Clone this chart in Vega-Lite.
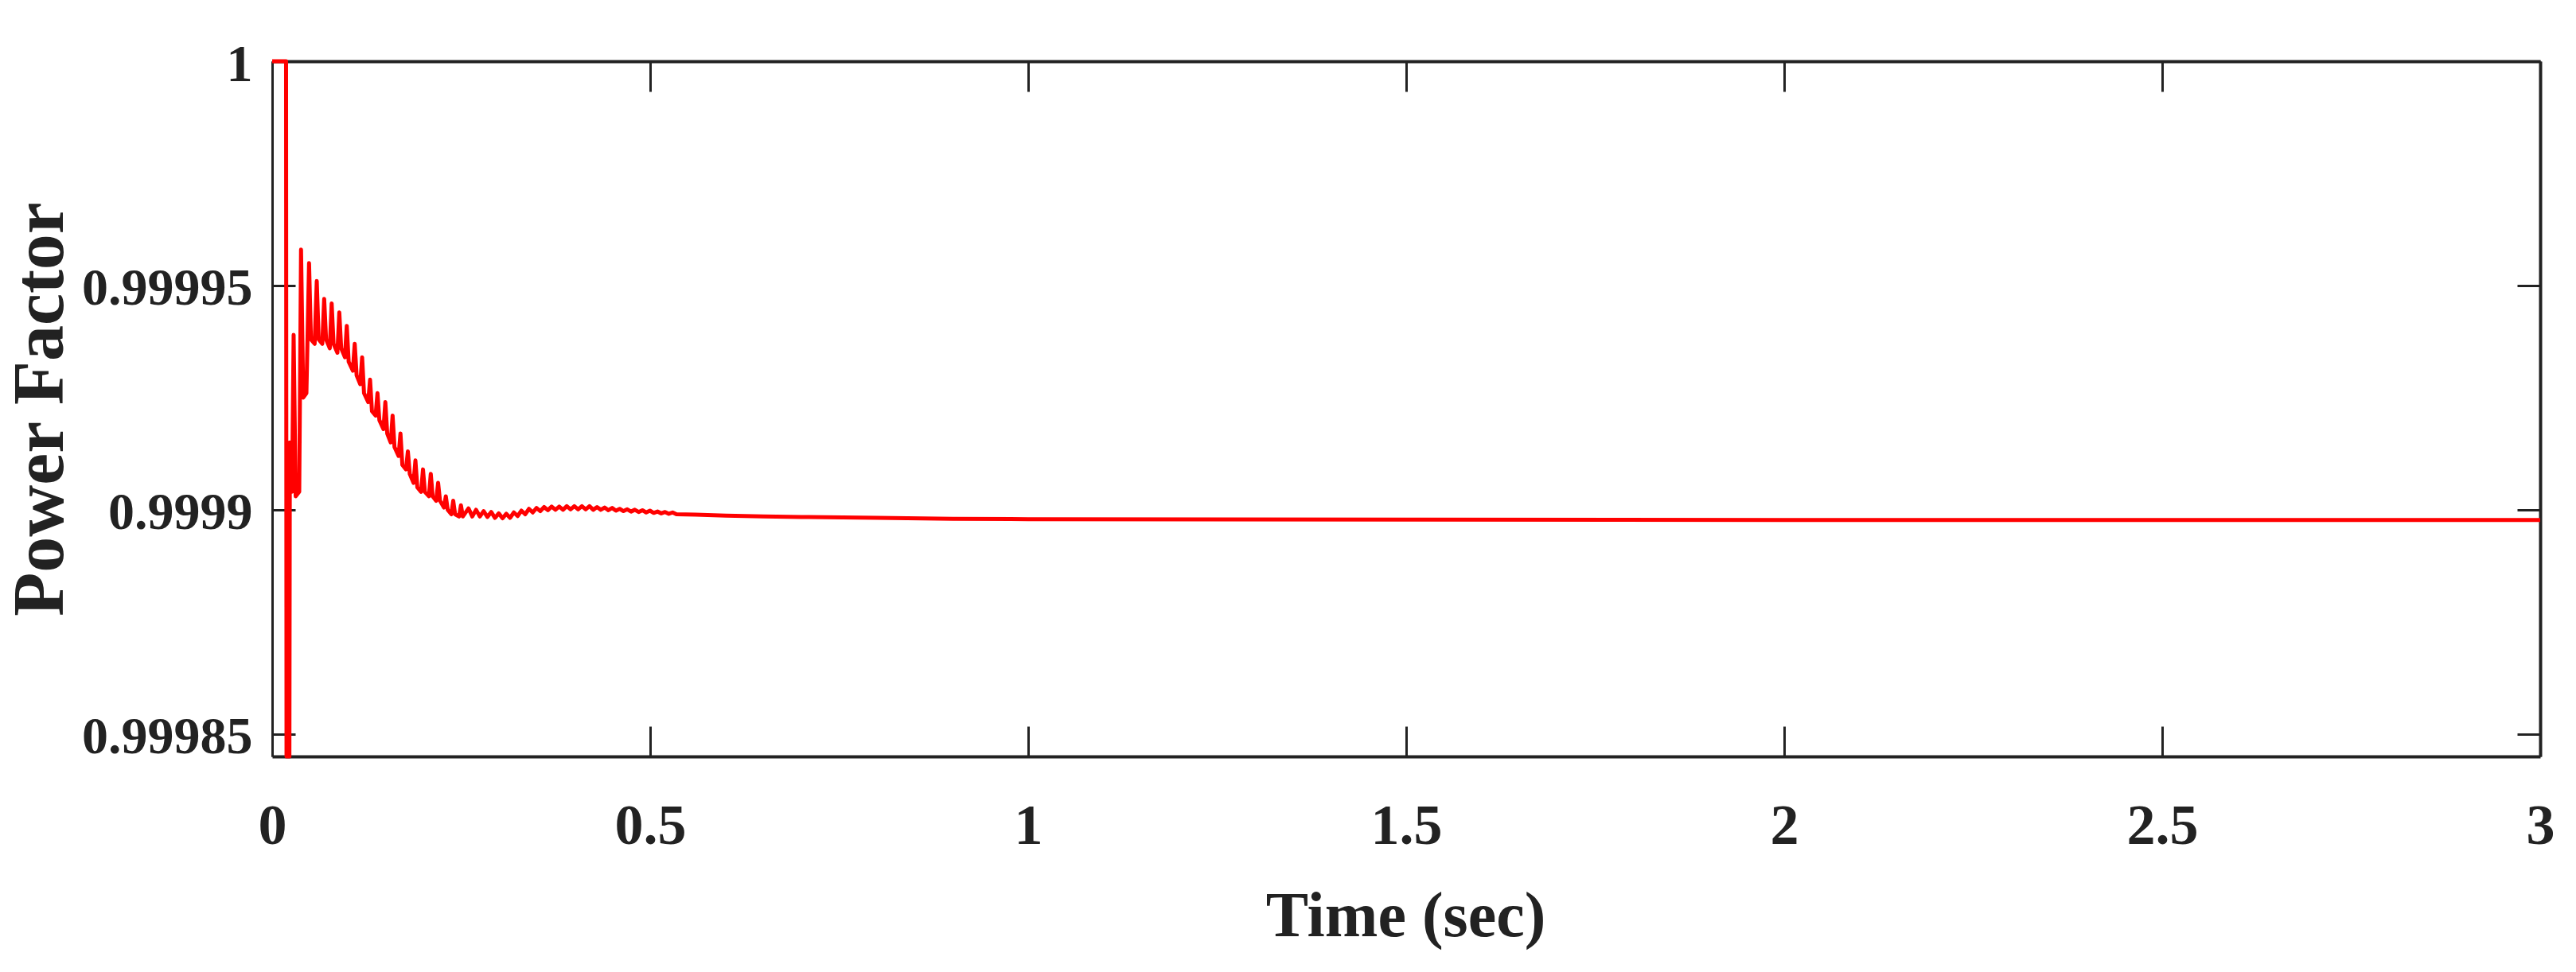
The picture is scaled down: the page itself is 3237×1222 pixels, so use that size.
{
  "$schema": "https://vega.github.io/schema/vega-lite/v6.json",
  "width": 2850,
  "height": 874,
  "autosize": "none",
  "padding": {"left": 342, "top": 77, "right": 45, "bottom": 271},
  "background": "white",
  "config": {
    "view": {"stroke": null},
    "axis": {
      "domainColor": "#222222",
      "domainWidth": 4,
      "tickColor": "#222222",
      "tickWidth": 3,
      "grid": false,
      "labelFont": "Liberation Serif",
      "labelFontWeight": "bold",
      "labelColor": "#222222",
      "labelLimit": 0,
      "titleFont": "Liberation Serif",
      "titleFontWeight": "bold",
      "titleColor": "#222222",
      "titleLimit": 0,
      "labelFlush": false,
      "labelOverlap": false,
      "labelBound": false
    }
  },
  "data": {
    "values": [
      {"t": 0, "pf": 1.0},
      {"t": 0.0184, "pf": 1.0},
      {"t": 0.0190, "pf": 0.999845},
      {"t": 0.0228, "pf": 0.999845},
      {"t": 0.0234, "pf": 0.999915},
      {"t": 0.0247, "pf": 0.999904},
      {"t": 0.0263, "pf": 0.999904},
      {"t": 0.0284, "pf": 0.999939},
      {"t": 0.0311, "pf": 0.999903},
      {"t": 0.0358, "pf": 0.999904},
      {"t": 0.0382, "pf": 0.999958},
      {"t": 0.0411, "pf": 0.999925},
      {"t": 0.0453, "pf": 0.999926},
      {"t": 0.0488, "pf": 0.999955},
      {"t": 0.0513, "pf": 0.999938},
      {"t": 0.0562, "pf": 0.999937},
      {"t": 0.0590, "pf": 0.999951},
      {"t": 0.0615, "pf": 0.999938},
      {"t": 0.0663, "pf": 0.999937},
      {"t": 0.0688, "pf": 0.999947},
      {"t": 0.0713, "pf": 0.999938},
      {"t": 0.0762, "pf": 0.999936},
      {"t": 0.0787, "pf": 0.999946},
      {"t": 0.0812, "pf": 0.999937},
      {"t": 0.0863, "pf": 0.999935},
      {"t": 0.0888, "pf": 0.999944},
      {"t": 0.0913, "pf": 0.999936},
      {"t": 0.0962, "pf": 0.999934},
      {"t": 0.0987, "pf": 0.999941},
      {"t": 0.1012, "pf": 0.999933},
      {"t": 0.1067, "pf": 0.999931},
      {"t": 0.1092, "pf": 0.999937},
      {"t": 0.1117, "pf": 0.999930},
      {"t": 0.1165, "pf": 0.999928},
      {"t": 0.1190, "pf": 0.999934},
      {"t": 0.1215, "pf": 0.999926},
      {"t": 0.1270, "pf": 0.999924},
      {"t": 0.1295, "pf": 0.999929},
      {"t": 0.1320, "pf": 0.999922},
      {"t": 0.1368, "pf": 0.999921},
      {"t": 0.1393, "pf": 0.999926},
      {"t": 0.1418, "pf": 0.999920},
      {"t": 0.1472, "pf": 0.999918},
      {"t": 0.1497, "pf": 0.999924},
      {"t": 0.1522, "pf": 0.999917},
      {"t": 0.1568, "pf": 0.999915},
      {"t": 0.1593, "pf": 0.999921},
      {"t": 0.1618, "pf": 0.999914},
      {"t": 0.1672, "pf": 0.999912},
      {"t": 0.1697, "pf": 0.999917},
      {"t": 0.1722, "pf": 0.999910},
      {"t": 0.1770, "pf": 0.999909},
      {"t": 0.1795, "pf": 0.999913},
      {"t": 0.1820, "pf": 0.999908},
      {"t": 0.1870, "pf": 0.999906},
      {"t": 0.1895, "pf": 0.999911},
      {"t": 0.1920, "pf": 0.999905},
      {"t": 0.1970, "pf": 0.999904},
      {"t": 0.1995, "pf": 0.999909},
      {"t": 0.2020, "pf": 0.999904},
      {"t": 0.2073, "pf": 0.999903},
      {"t": 0.2098, "pf": 0.999908},
      {"t": 0.2123, "pf": 0.999903},
      {"t": 0.2170, "pf": 0.999902},
      {"t": 0.2195, "pf": 0.999906},
      {"t": 0.2220, "pf": 0.999902},
      {"t": 0.2272, "pf": 0.9999005},
      {"t": 0.2297, "pf": 0.999903},
      {"t": 0.2322, "pf": 0.9999},
      {"t": 0.2370, "pf": 0.999899},
      {"t": 0.2395, "pf": 0.999902},
      {"t": 0.2420, "pf": 0.999899},
      {"t": 0.2472, "pf": 0.9998985},
      {"t": 0.2497, "pf": 0.999901},
      {"t": 0.2522, "pf": 0.9998985},
      {"t": 0.2597, "pf": 0.9999003},
      {"t": 0.2647, "pf": 0.9998985},
      {"t": 0.2697, "pf": 0.9999000},
      {"t": 0.2747, "pf": 0.9998985},
      {"t": 0.2797, "pf": 0.9998997},
      {"t": 0.2847, "pf": 0.9998984},
      {"t": 0.2897, "pf": 0.9998995},
      {"t": 0.2947, "pf": 0.9998982},
      {"t": 0.2997, "pf": 0.9998992},
      {"t": 0.3047, "pf": 0.9998981},
      {"t": 0.3097, "pf": 0.9998991},
      {"t": 0.3147, "pf": 0.9998982},
      {"t": 0.3197, "pf": 0.9998994},
      {"t": 0.3247, "pf": 0.9998986},
      {"t": 0.3297, "pf": 0.9998998},
      {"t": 0.3347, "pf": 0.9998990},
      {"t": 0.3397, "pf": 0.9999002},
      {"t": 0.3447, "pf": 0.9998994},
      {"t": 0.3497, "pf": 0.9999004},
      {"t": 0.3547, "pf": 0.9998997},
      {"t": 0.3597, "pf": 0.9999006},
      {"t": 0.3647, "pf": 0.9998999},
      {"t": 0.3697, "pf": 0.9999007},
      {"t": 0.3747, "pf": 0.9999},
      {"t": 0.3797, "pf": 0.9999007},
      {"t": 0.3847, "pf": 0.9999},
      {"t": 0.3897, "pf": 0.9999008},
      {"t": 0.3947, "pf": 0.9999001},
      {"t": 0.3997, "pf": 0.9999008},
      {"t": 0.4047, "pf": 0.9999001},
      {"t": 0.4097, "pf": 0.9999008},
      {"t": 0.4147, "pf": 0.9999001},
      {"t": 0.4197, "pf": 0.9999008},
      {"t": 0.4247, "pf": 0.9999},
      {"t": 0.4297, "pf": 0.9999006},
      {"t": 0.4347, "pf": 0.9999},
      {"t": 0.4397, "pf": 0.9999005},
      {"t": 0.4447, "pf": 0.9998999},
      {"t": 0.4497, "pf": 0.9999004},
      {"t": 0.4547, "pf": 0.9998998},
      {"t": 0.4597, "pf": 0.9999002},
      {"t": 0.4647, "pf": 0.9998997},
      {"t": 0.4697, "pf": 0.9999001},
      {"t": 0.4747, "pf": 0.9998996},
      {"t": 0.4797, "pf": 0.9999},
      {"t": 0.4847, "pf": 0.9998995},
      {"t": 0.4897, "pf": 0.9998999},
      {"t": 0.4947, "pf": 0.9998994},
      {"t": 0.4997, "pf": 0.9998998},
      {"t": 0.5047, "pf": 0.9998993},
      {"t": 0.5097, "pf": 0.9998996},
      {"t": 0.5147, "pf": 0.9998992},
      {"t": 0.5197, "pf": 0.9998995},
      {"t": 0.5247, "pf": 0.9998991},
      {"t": 0.5297, "pf": 0.9998994},
      {"t": 0.5347, "pf": 0.999899},
      {"t": 0.56, "pf": 0.9998989},
      {"t": 0.60, "pf": 0.9998987},
      {"t": 0.65, "pf": 0.9998985},
      {"t": 0.70, "pf": 0.9998984},
      {"t": 0.80, "pf": 0.9998982},
      {"t": 0.90, "pf": 0.999898},
      {"t": 1.0, "pf": 0.9998979},
      {"t": 1.5, "pf": 0.9998978},
      {"t": 2.0, "pf": 0.9998977},
      {"t": 3.0, "pf": 0.9998977}
    ]
  },
  "layer": [
    {
      "mark": {"type": "line", "strokeOpacity": 0},
      "encoding": {
        "x": {
          "field": "t", "type": "quantitative",
          "scale": {"domain": [0, 3], "nice": false, "zero": false},
          "axis": {"orient": "top", "values": [0, 0.5, 1, 1.5, 2, 2.5, 3], "labels": false, "title": null, "tickSize": -38}
        },
        "y": {
          "field": "pf", "type": "quantitative",
          "scale": {"domain": [0.999845, 1.0], "nice": false, "zero": false},
          "axis": {"orient": "right", "values": [0.99985, 0.9999, 0.99995, 1], "labels": false, "title": null, "tickSize": -29}
        }
      }
    },
    {
      "mark": {"type": "line", "color": "#ff0000", "strokeWidth": 5, "strokeJoin": "round"},
      "encoding": {
        "x": {
          "field": "t", "type": "quantitative",
          "scale": {"domain": [0, 3], "nice": false, "zero": false},
          "axis": {
            "orient": "bottom", "values": [0, 0.5, 1, 1.5, 2, 2.5, 3], "format": "~g",
            "tickSize": -38, "labelPadding": 147, "labelBaseline": "alphabetic", "labelFontSize": 72,
            "title": "Time (sec)", "titleFontSize": 80, "titleX": 1424, "titleY": 225, "titleBaseline": "alphabetic", "titleAlign": "center"
          }
        },
        "y": {
          "field": "pf", "type": "quantitative",
          "scale": {"domain": [0.999845, 1.0], "nice": false, "zero": false},
          "axis": {
            "orient": "left", "values": [0.99985, 0.9999, 0.99995, 1], "format": "~g",
            "tickSize": -29, "labelPadding": 54, "labelBaseline": "middle", "labelOffset": 4, "labelFontSize": 66, "domainWidth": 3,
            "title": "Power Factor", "titleFontSize": 90, "titleX": -264, "titleY": 437, "titleAngle": 270, "titleBaseline": "alphabetic", "titleAlign": "center"
          }
        }
      }
    }
  ],
  "resolve": {"axis": {"x": "independent", "y": "independent"}}
}
